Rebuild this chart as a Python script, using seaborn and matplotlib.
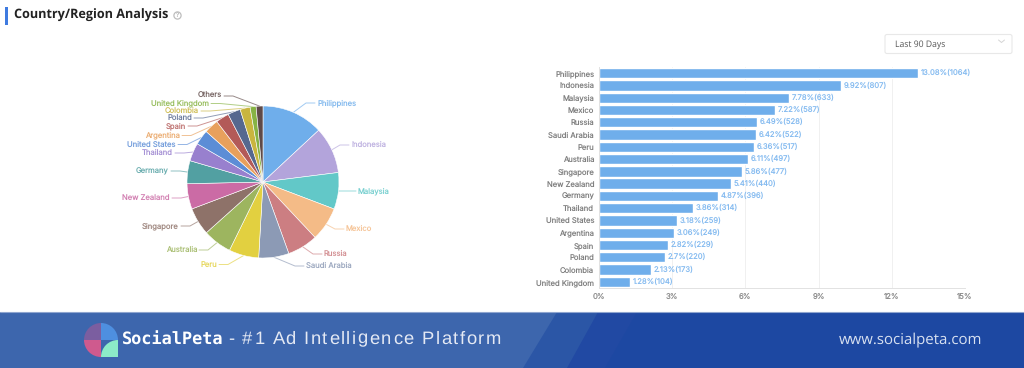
import numpy as np
import pandas as pd
import seaborn as sns
import matplotlib.pyplot as plt
from matplotlib.patches import Polygon, Rectangle, FancyBboxPatch, Wedge, Circle

countries = ["Philippines", "Indonesia", "Malaysia", "Mexico", "Russia", "Saudi Arabia",
             "Peru", "Australia", "Singapore", "New Zealand", "Germany", "Thailand",
             "United States", "Argentina", "Spain", "Poland", "Colombia", "United Kingdom"]
shares = [13.08, 9.92, 7.78, 7.22, 6.49, 6.42, 6.36, 6.11, 5.86, 5.41, 4.87, 3.86,
          3.18, 3.06, 2.82, 2.7, 2.13, 1.28]
counts = [1064, 807, 633, 587, 528, 522, 517, 497, 477, 440, 396, 314, 259, 249, 229, 220, 173, 104]
others_share = 1.45
xticks = [0, 3, 6, 9, 12, 15]
xtick_labels = ["0%", "3%", "6%", "9%", "12%", "15%"]
slice_colors = ["#6FAEEB", "#B3A4DB", "#62C8C8", "#F4BB87", "#CC7E82", "#8C9AB5", "#E2D040",
                "#9DB55F", "#8E7269", "#CB6BA5", "#52A0A2", "#9880CE", "#5C8DD6", "#E8A05C",
                "#B35A58", "#56688F", "#C9B53F", "#87B344", "#5F4A48"]
# where the pie labels sit, in image pixels: inner edge x, centre y
label_spots = [(317, 103), (351, 145), (358, 191), (346, 229), (324, 254), (306, 266),
               (217, 264.5), (197, 250), (179, 226), (170, 198), (169, 171), (173, 153),
               (176, 144.5), (180, 135.5), (186, 126), (192, 118), (199, 111), (209, 103.5),
               (222, 96)]

W, H = 1024, 368
BAR_BLUE = "#6FAEEB"

sns.set_theme(style="white")
plt.rcParams["font.family"] = ["Inter", "DejaVu Sans"]
plt.rcParams["text.hinting"] = "no_hinting"

fig = plt.figure(figsize=(W / 100, H / 100), dpi=100, facecolor="white")


def px_axes(left, top, right, bottom):
    return fig.add_axes([left / W, 1 - bottom / H, (right - left) / W, (bottom - top) / H])


def spaced_text(ax, x, y, text, tracking, **kwargs):
    # matplotlib has no letter spacing, so place the letters one at a time
    renderer = fig.canvas.get_renderer()
    for i, letter in enumerate(text):
        probe = ax.text(0, 0, text[:i] + "|", **kwargs)
        bar = ax.text(0, 0, "|", **kwargs)
        advance = probe.get_window_extent(renderer).width - bar.get_window_extent(renderer).width
        probe.remove()
        bar.remove()
        ax.text(x + advance + i * tracking, y, letter, **kwargs)


# page overlay in image pixels, for the header, the banner and the pie labels
page = px_axes(0, 0, W, H)
page.set_xlim(0, W)
page.set_ylim(H, 0)
page.axis("off")

page.add_patch(Rectangle((5, 7), 2.5, 18, color="#3F7BE0", lw=0))
page.text(14, 15.5, "Country/Region Analysis", family="Open Sans", weight="bold", fontsize=9.1,
          color="#222222", va="center")
page.add_patch(Circle((177.5, 15.5), 3.6, fc="none", ec="#BDBDBD", lw=0.9))
page.text(177.5, 15.7, "?", fontsize=4.5, color="#BDBDBD", ha="center", va="center")

page.add_patch(FancyBboxPatch((885, 34.5), 127, 19, boxstyle="round,pad=0,rounding_size=2",
                              fc="white", ec="#E8E8E8", lw=0.8))
page.text(895, 44.5, "Last 90 Days", family="Open Sans", fontsize=6.2, color="#555555", va="center")
page.plot([998.5, 1001.5, 1004.5], [40, 42.5, 40], color="#D5D5D5", lw=0.7)

# banner
page.add_patch(Rectangle((0, 312), W, H - 312, color="#1D48A2", lw=0))
page.plot([0, W], [311.5, 311.5], color="#8FA5CF", lw=0.8)
for top_x, bottom_x, shade in [(637, 605, "#2149A3"), (598, 567, "#2B56A6"), (557, 523, "#3D66AD")]:
    page.add_patch(Polygon([(0, 312), (top_x, 312), (bottom_x, H), (0, H)], color=shade, lw=0))

page.add_patch(Wedge((101, 340), 17, 270, 360, fc="#4E8FE0", lw=0))
page.add_patch(Wedge((101, 340), 17, 180, 270, fc="#7B5EA0", lw=0))
page.add_patch(Wedge((101, 340), 17, 90, 180, fc="#CF5A8E", lw=0))
page.add_patch(Wedge((118, 357), 17, 180, 270, fc="#8CEBC8", lw=0))
page.text(122, 340.5, "SocialPeta", family="DejaVu Sans Mono", weight="bold", fontsize=12.2,
          color="white", va="center")
spaced_text(page, 228, 339, "- #1 Ad Intelligence Platform", 1.55, family="Liberation Sans",
            fontsize=13.2, color="#E4E9F4", va="center")
page.text(839, 340, "www.socialpeta.com", family="Open Sans", fontsize=10.8,
          color="#D8E1F1", va="center")

# pie
pie_ax = px_axes(187, 106, 339, 258)
pie_values = shares + [others_share]
pie_names = countries + ["Others"]
wedges, _ = pie_ax.pie(pie_values, colors=slice_colors, startangle=90, counterclock=False,
                       wedgeprops={"edgecolor": "white", "linewidth": 0.4})
pie_ax.set_xlim(-1, 1)
pie_ax.set_ylim(-1, 1)

for wedge, name, color, (lx, ly) in zip(wedges, pie_names, slice_colors, label_spots):
    mid = np.deg2rad((wedge.theta1 + wedge.theta2) / 2)
    sx = 263 + 76 * np.cos(mid)
    sy = 182 - 76 * np.sin(mid)
    side = 1 if lx > 263 else -1
    page.plot([sx, lx - side * 11, lx - side * 2], [sy, ly, ly], color=color, lw=0.7, alpha=0.65)
    page.text(lx, ly, name, fontsize=5.5, color=color, alpha=0.85, va="center",
              ha="left" if side > 0 else "right")

# bars
bar_ax = px_axes(599, 67, 965, 288)
df = pd.DataFrame({"country": countries, "share": shares})
sns.barplot(data=df, x="share", y="country", orient="h", color=BAR_BLUE, saturation=1,
            width=0.84, ax=bar_ax)
bar_ax.set_xlim(0, 15)
bar_ax.set_xticks(xticks)
bar_ax.set_xticklabels(xtick_labels, fontsize=5.6, color="#8A8A8A")
bar_ax.tick_params(axis="y", labelsize=5.5, labelcolor="#808080", length=0, pad=3.5)
bar_ax.tick_params(axis="x", length=0, pad=3.5)
bar_ax.set_xlabel("")
bar_ax.set_ylabel("")
bar_ax.set_axisbelow(True)
bar_ax.grid(axis="x", color="#F0F0F0", lw=0.7)
for name, spine in bar_ax.spines.items():
    spine.set_visible(name in ("left", "bottom"))
    spine.set_color("#E2E2E2")
    spine.set_linewidth(0.7)
for i, (share, count) in enumerate(zip(shares, counts)):
    bar_ax.annotate(f"{share:g}%({count})", (share, i), xytext=(2, 0), textcoords="offset points",
                    fontsize=5.5, color="#85BBF0", va="center", annotation_clip=False)

fig.savefig("out.png", dpi=100)
